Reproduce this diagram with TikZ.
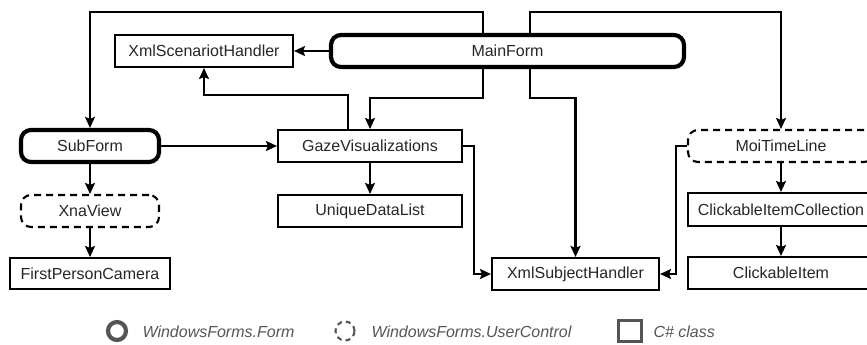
\documentclass[tikz,border=0pt]{standalone}
\usepackage{fontspec}
\setmainfont{Liberation Sans}
\usetikzlibrary{arrows.meta}
\definecolor{keygray}{HTML}{555555}
\begin{document}
\begin{tikzpicture}[x=1pt, y=-1pt,
		every node/.style={font=\fontsize{16}{19}\selectfont, text=black!85},
		cls/.style={draw, line width=2.1pt, minimum height=32pt, inner sep=0pt},
		form/.style={cls, line width=4.2pt, rounded corners=10pt},
		ctrl/.style={cls, dash pattern=on 7pt off 5pt, rounded corners=10pt},
		arr/.style={line width=2.1pt, -{Stealth[length=11pt, width=10pt, inset=2pt]}},
		keytext/.style={anchor=west, text=keygray, font=\fontsize{16}{19}\selectfont\itshape}]
		\useasboundingbox (0,0) rectangle (867,345);
		\node[cls, minimum width=178pt] (xsh) at (204,51) {XmlScenariotHandler};
		\node[form, minimum width=353pt] (main) at (507.5,51) {MainForm};
		\node[form, minimum width=138pt] (sub) at (90,146) {SubForm};
		\node[cls, minimum width=184pt] (gaze) at (370,146) {GazeVisualizations};
		\node[ctrl, minimum width=186pt] (moi) at (781,146) {MoiTimeLine};
		\node[ctrl, minimum width=138pt] (xna) at (90,211) {XnaView};
		\node[cls, minimum width=160pt, minimum height=31pt] (fpc) at (90,273.5) {FirstPersonCamera};
		\node[cls, minimum width=184pt] (udl) at (370,211) {UniqueDataList};
		\node[cls, minimum width=186pt, minimum height=33pt] (cic) at (781,209.5) {ClickableItemCollection};
		\node[cls, minimum width=186pt] (ci) at (781,273) {ClickableItem};
		\node[cls, minimum width=167pt] (xsubj) at (575.5,274) {XmlSubjectHandler};
		\draw[arr] (main.west) -- (xsh.east);
		\draw[arr] ([xshift=-24.5pt]main.north) -- ++(0,-21) -| (sub.north);
		\draw[arr] ([xshift=22.5pt]main.north) -- ++(0,-21) -| (moi.north);
		\draw[arr] ([xshift=-24.5pt]main.south) -- ++(0,29) -| (gaze.north);
		\draw[arr] ([xshift=22.5pt]main.south) -- ++(0,29) -| (xsubj.north);
		\draw[arr] ([xshift=-22pt]gaze.north) -- ++(0,-34) -| (xsh.south);
		\draw[arr] (sub.east) -- (gaze.west);
		\draw[arr] (sub) -- (xna);
		\draw[arr] (xna) -- (fpc);
		\draw[arr] (gaze) -- (udl);
		\draw[arr] (gaze.east) -- ++(11,0) |- (xsubj.west);
		\draw[arr] (moi.west) -- ++(-11,0) |- (xsubj.east);
		\draw[arr] (moi) -- (cic);
		\draw[arr] (cic) -- (ci);
		\node[circle, draw=keygray, line width=4.2pt, minimum size=18pt, inner sep=0pt] (keyform) at (117,331) {};
		\node[keytext] (keyformtext) at (139,332) {WindowsForms.Form};
		\node[circle, draw=keygray, line width=2.1pt, dash pattern=on 5pt off 4pt, minimum size=19pt, inner sep=0pt] (keyctrl) at (345,331) {};
		\node[keytext] (keyctrltext) at (368,332) {WindowsForms.UserControl};
		\node[draw=keygray, line width=2.1pt, minimum width=23pt, minimum height=21pt, inner sep=0pt] (keycls) at (630,331) {};
		\node[keytext] (keyclstext) at (650,332) {C\# class};
	\end{tikzpicture}
\end{document}
